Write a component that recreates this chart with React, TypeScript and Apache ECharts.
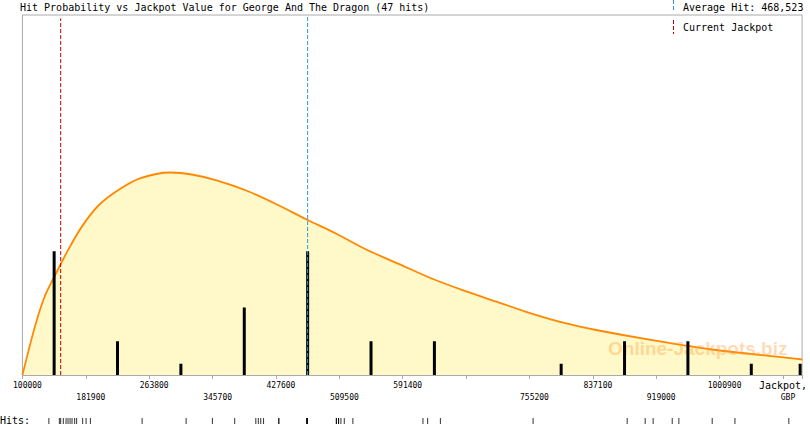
import { useEffect, useRef } from 'react';
import * as echarts from 'echarts';

// jackpot axis: ticks every 81,900 GBP starting at 100,000
const axisStart = 100000;
const axisEnd = 1107500;
const tickStep = 81900;
const tickLabelsUpper = ['100000', '', '263800', '', '427600', '', '591400', '', '', '837100', '', '1000900', 'Jackpot,'];
const tickLabelsLower = ['', '181900', '', '345700', '', '509500', '', '', '755200', '', '919000', '', 'GBP'];

// probability curve (in hits-per-bin units)
const curveJackpot = [100000, 116100, 128900, 143900, 158900, 175900, 197300, 222900, 252700, 291100, 320500, 350800, 389200, 427600, 468000, 504400, 542800, 585400, 628000, 670700, 713400, 756000, 798700, 841300, 913900, 998700, 1105800, 1107500];
const curveDensity = [0, 4.3, 7.0, 9.1, 11.1, 13.1, 15.0, 16.4, 17.5, 18.0, 17.8, 17.3, 16.4, 15.2, 13.8, 12.6, 11.2, 9.9, 8.6, 7.5, 6.5, 5.5, 4.65, 4.0, 3.1, 2.2, 1.4, 1.35];

// histogram of hits
const binCenters = [140950, 222850, 304750, 386650, 468550, 550450, 632350, 714250, 796150, 878050, 959950, 1041850, 1105000];
const binCounts = [11, 3, 1, 6, 11, 3, 3, 0, 1, 3, 3, 1, 1];

// individual hits (strip at the bottom)
const hits = [
    136900, 150300, 152000, 155400, 158900, 161400, 164000, 166500, 169900, 172400, 180100,
    184500, 190000, 256100,
    312400,
    346000, 374500, 401500, 404700, 407800, 411400,
    430900, 430900, 467000, 467000, 467000, 467000, 467000, 504500, 504500, 507300, 507300,
    510300, 514600, 525600,
    615200, 621200, 637500,
    756000,
    876300, 899300, 909500,
    933900, 942400, 985000,
    1014100,
    1083000,
];

const averageHit = 468523;
const currentJackpot = 149400;
const gameName = 'George And The Dragon';

const MONO = '"DejaVu Sans Mono", monospace';
const AVG_COLOR = '#2E9BD6';
const JACKPOT_COLOR = '#C00000';

function tickFormatter(labels: string[]) {
    return (v: number) => {
        const k = Math.round(v / tickStep);
        if (Math.abs(v - k * tickStep) > 1) return '';
        const t = labels[k];
        if (!t) return '';
        return t === 'Jackpot,' ? `{big|${t}}` : `{n|${t}}`;
    };
}

const richLabels = {
    n: { fontFamily: MONO, fontSize: 8, color: '#000', padding: [0, 0, 0, 10], lineHeight: 10 },
    big: { fontFamily: MONO, fontSize: 10, color: '#000', lineHeight: 10 },
};

// vertical dashed marker drawn as a 2-point line series
function vLine(value: number, top: number, color: string) {
    return {
        type: 'line',
        xAxisIndex: 0,
        yAxisIndex: 0,
        z: 5,
        symbol: 'none',
        silent: true,
        data: [[value, 0], [value, top]],
        lineStyle: { color, type: [4, 2], width: 1 },
    };
}

export default function App() {
    const chartRef = useRef<HTMLDivElement>(null);

    useEffect(() => {
        if (!chartRef.current) return;
        const chart = echarts.init(chartRef.current, undefined, { renderer: 'svg' });

        const shift = (v: number) => v - axisStart;
        const xBase = {
            type: 'value',
            min: 0,
            max: axisEnd - axisStart,
            interval: tickStep,
            splitLine: { show: false },
        };

        const option = {
            animation: false,
            grid: [
                { left: 20, top: 15, width: 788, height: 360, show: true, borderColor: '#aaaaaa', borderWidth: 1 },
                { left: 20, top: 418, width: 788, height: 6 },
            ],
            xAxis: [
                {
                    ...xBase,
                    gridIndex: 0,
                    position: 'bottom',
                    axisLine: { show: true, lineStyle: { color: '#aaaaaa' } },
                    axisTick: { show: true, length: 4, lineStyle: { color: '#aaaaaa' } },
                    axisLabel: { margin: 5, formatter: tickFormatter(tickLabelsUpper), rich: richLabels },
                },
                {
                    ...xBase,
                    gridIndex: 0,
                    position: 'bottom',
                    axisLine: { show: false },
                    axisTick: { show: false },
                    axisLabel: { margin: 17, formatter: tickFormatter(tickLabelsLower), rich: richLabels },
                },
                { ...xBase, gridIndex: 1, show: false },
            ],
            yAxis: [
                { type: 'value', gridIndex: 0, min: 0, max: 32, show: false, splitLine: { show: false } },
                { type: 'value', gridIndex: 1, min: 0, max: 1, show: false, splitLine: { show: false } },
            ],
            series: [
                {
                    type: 'line',
                    xAxisIndex: 0,
                    yAxisIndex: 0,
                    z: 1,
                    data: curveJackpot.map((v, i) => [shift(v), curveDensity[i]]),
                    smooth: 0.3,
                    symbol: 'none',
                    lineStyle: { color: '#FF8800', width: 1.8 },
                    areaStyle: { color: '#FFF8C8', opacity: 1 },
                    silent: true,
                },
                {
                    type: 'bar',
                    xAxisIndex: 0,
                    yAxisIndex: 0,
                    z: 3,
                    barWidth: 3,
                    data: binCenters.map((v, i) => [shift(v), binCounts[i]]),
                    itemStyle: { color: '#000000' },
                    silent: true,
                },
                vLine(shift(currentJackpot), 31.7, JACKPOT_COLOR),
                vLine(shift(averageHit), 32, AVG_COLOR),
                {
                    type: 'scatter',
                    xAxisIndex: 2,
                    yAxisIndex: 1,
                    symbol: 'rect',
                    symbolSize: [1, 6],
                    data: hits.map((v) => [shift(v), 0.5]),
                    itemStyle: { color: '#000000' },
                    silent: true,
                },
            ],
            graphic: [
                {
                    type: 'text',
                    x: 20,
                    y: 7,
                    style: {
                        text: `Hit Probability vs Jackpot Value for ${gameName} (${hits.length} hits)`,
                        font: `10px ${MONO}`,
                        fill: '#000',
                        textVerticalAlign: 'middle',
                    },
                },
                {
                    type: 'line',
                    shape: { x1: 673.5, y1: 0, x2: 673.5, y2: 12 },
                    style: { stroke: AVG_COLOR, lineDash: [4, 2], lineWidth: 1 },
                },
                {
                    type: 'text',
                    x: 683,
                    y: 7,
                    style: {
                        text: `Average Hit: ${averageHit.toLocaleString('en-US')}`,
                        font: `10px ${MONO}`,
                        fill: '#000',
                        textVerticalAlign: 'middle',
                    },
                },
                {
                    type: 'line',
                    shape: { x1: 673.5, y1: 20, x2: 673.5, y2: 34 },
                    style: { stroke: JACKPOT_COLOR, lineDash: [4, 2], lineWidth: 1 },
                },
                {
                    type: 'text',
                    x: 683,
                    y: 27,
                    style: {
                        text: 'Current Jackpot',
                        font: `10px ${MONO}`,
                        fill: '#000',
                        textVerticalAlign: 'middle',
                    },
                },
                {
                    type: 'text',
                    x: 608,
                    y: 348,
                    z: 2,
                    style: {
                        text: 'Online-Jackpots.biz',
                        font: `bold 19px "Liberation Sans", Arial, sans-serif`,
                        fill: 'rgba(255, 160, 60, 0.38)',
                        textVerticalAlign: 'middle',
                    },
                },
                {
                    type: 'text',
                    x: 0,
                    y: 420,
                    style: {
                        text: 'Hits:',
                        font: `10px ${MONO}`,
                        fill: '#000',
                        textVerticalAlign: 'middle',
                    },
                },
            ],
        };

        chart.setOption(option);

        return () => {
            chart.dispose();
        };
    }, []);

    return (
        <div
            ref={chartRef}
            style={{ position: 'absolute', left: 0, top: 0, width: 810, height: 425, background: '#fff' }}
        />
    );
}
